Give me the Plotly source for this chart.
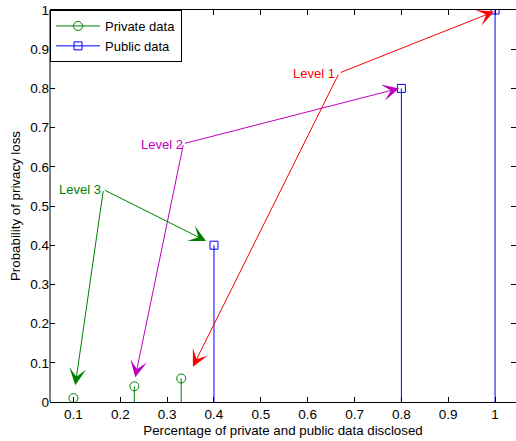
import plotly.graph_objects as go

# ---- data ----
private_x = [0.1, 0.23, 0.33]
private_y = [0.01, 0.04, 0.06]
public_x = [0.4, 0.8, 1.0]
public_y = [0.4, 0.8, 1.0]
x_ticks = [0.1, 0.2, 0.3, 0.4, 0.5, 0.6, 0.7, 0.8, 0.9, 1.0]
x_tick_labels = ["0.1", "0.2", "0.3", "0.4", "0.5", "0.6", "0.7", "0.8", "0.9", "1"]
y_ticks = [0, 0.1, 0.2, 0.3, 0.4, 0.5, 0.6, 0.7, 0.8, 0.9, 1.0]
y_tick_labels = ["0", "0.1", "0.2", "0.3", "0.4", "0.5", "0.6", "0.7", "0.8", "0.9", "1"]

GREEN = "#008000"
BLUE = "#0000FF"
RED = "#FF0000"
MAG = "#BF00BF"
FONT = "Liberation Sans, Arial, Helvetica, sans-serif"

fig = go.Figure()


def stem(xs, ys, color, symbol, size, name):
    sx, sy = [], []
    for x, y in zip(xs, ys):
        sx += [x, x, None]
        sy += [0, y, None]
    fig.add_trace(go.Scatter(x=sx, y=sy, mode="lines", line=dict(color=color, width=1),
                             showlegend=False, hoverinfo="skip"))
    fig.add_trace(go.Scatter(x=xs, y=ys, mode="markers",
                             marker=dict(symbol=symbol, size=size, color=color,
                                         line=dict(color=color, width=1)),
                             showlegend=False))
    fig.add_trace(go.Scatter(x=[None], y=[None], mode="lines+markers", name=name,
                             line=dict(color=color, width=1),
                             marker=dict(symbol=symbol, size=size, color=color,
                                         line=dict(color=color, width=1))))


stem(private_x, private_y, GREEN, "circle-open", 9, "Private data")
stem(public_x, public_y, BLUE, "square-open", 8, "Public data")

# ---- annotations ----
levels = [
    ("Level 1", RED, (0.667, 0.839), [(0.998, 0.996), (0.355, 0.090)], (0.663, 0.839)),
    ("Level 2", MAG, (0.335, 0.659), [(0.795, 0.800), (0.232, 0.063)], (0.339, 0.658)),
    ("Level 3", GREEN, (0.164, 0.542), [(0.383, 0.411), (0.104, 0.043)], (0.163, 0.543)),
]
anns = []
for label, color, tail, tips, tpos in levels:
    anns.append(dict(x=tpos[0], y=tpos[1], xref="x", yref="y", text=label, showarrow=False,
                     xanchor="right", yanchor="middle", font=dict(color=color, size=13, family=FONT)))
    for tip in tips:
        anns.append(dict(x=tip[0], y=tip[1], ax=tail[0], ay=tail[1], xref="x", yref="y",
                         axref="x", ayref="y", text="", showarrow=True, arrowhead=3,
                         arrowsize=2.8, arrowwidth=1, arrowcolor=color, standoff=0,
                         startstandoff=0))

fig.update_layout(
    width=516, height=441,
    margin=dict(l=50, r=0, t=10, b=39),
    paper_bgcolor="white", plot_bgcolor="white",
    font=dict(family=FONT, size=13, color="black"),
    showlegend=True,
    legend=dict(x=0, y=1, xanchor="left", yanchor="top", bordercolor="black", borderwidth=1,
                bgcolor="white", font=dict(size=13), tracegroupgap=0, itemwidth=44),
    annotations=anns,
    shapes=[dict(type="line", xref="paper", yref="paper", x0=0, x1=0, y0=0, y1=1,
                 line=dict(color="black", width=1))],
)
fig.update_xaxes(range=[0.05, 0.05 + 466 / 468.5], tickvals=x_ticks, ticktext=x_tick_labels,
                 ticks="inside", ticklen=5, tickcolor="black", showline=True, linecolor="black",
                 mirror="ticks", showgrid=False, zeroline=False, automargin=False,
                 tickfont=dict(size=13.5),
                 title=dict(text="Percentage of private and public data disclosed", standoff=4,
                            font=dict(size=13.3)))
fig.update_yaxes(range=[0, 1], tickvals=y_ticks, ticktext=y_tick_labels,
                 ticks="inside", ticklen=5, tickcolor="black", showline=False,
                 mirror="ticks", showgrid=False, zeroline=False, automargin=False,
                 tickfont=dict(size=13.5),
                 title=dict(text="Probability of privacy loss", standoff=6, font=dict(size=13.3)))

fig.write_html("out.html", config={"displayModeBar": False},
               post_script="document.body.style.margin='0';")
